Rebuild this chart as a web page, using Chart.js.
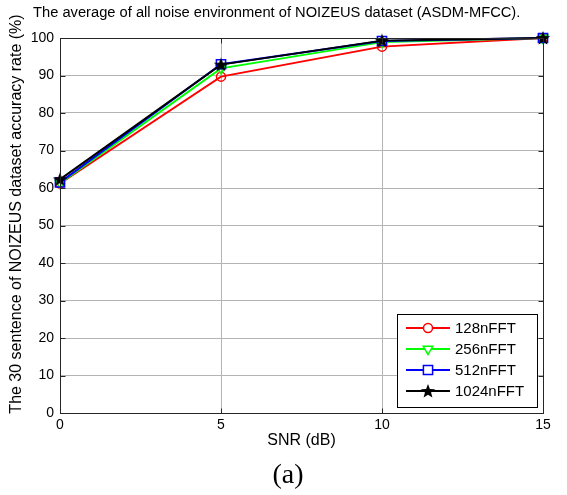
<!DOCTYPE html>
<html><head><meta charset="utf-8">
<script src="https://cdn.jsdelivr.net/npm/chart.js@4/dist/chart.umd.min.js"></script>
<style>html,body{margin:0;padding:0;background:#fff;}#wrap{width:567px;height:495px;}</style>
</head><body><div id="wrap"><canvas id="c" width="567" height="495"></canvas></div>
<script>
const snr = [0, 5, 10, 15];
const acc128 = [61.2, 89.7, 97.7, 100];
const acc256 = [61.3, 91.9, 98.9, 100];
const acc512 = [61.5, 93.0, 99.2, 100];
const acc1024 = [62.3, 92.9, 99.3, 100];
const seriesNames = ['128nFFT', '256nFFT', '512nFFT', '1024nFFT'];
const xTickValues = [0, 5, 10, 15];
const yTickValues = [0, 10, 20, 30, 40, 50, 60, 70, 80, 90, 100];
const chartTitle = 'The average of all noise environment of NOIZEUS dataset (ASDM-MFCC).';
const xTitle = 'SNR (dB)';
const yTitle = 'The 30 sentence of NOIZEUS dataset accuracy rate (%)';
const caption = '(a)';

const FONT = 'Liberation Sans, Arial, sans-serif';

// filled five-point star marker
const star = document.createElement('canvas');
star.width = 16; star.height = 16;
(function(){
  const g = star.getContext('2d');
  g.fillStyle = '#000';
  g.beginPath();
  for (let i = 0; i < 10; i++) {
    const r = i % 2 === 0 ? 7.5 : 3.2;
    const ang = -Math.PI / 2 + i * Math.PI / 5;
    const px = 8 + r * Math.cos(ang), py = 8.5 + r * Math.sin(ang);
    if (i === 0) g.moveTo(px, py); else g.lineTo(px, py);
  }
  g.closePath(); g.fill();
})();

function toPts(arr) { return snr.map((x, i) => ({x: x, y: arr[i]})); }

const styles = [
  {color: '#ff0000', pointStyle: 'circle', radius: 4.5, rotation: 0},
  {color: '#00ff00', pointStyle: 'triangle', radius: 5.5, rotation: 180},
  {color: '#0000ff', pointStyle: 'rect', radius: 6.5, rotation: 0},
  {color: '#000000', pointStyle: star, radius: 8, rotation: 0}
];
const allData = [acc128, acc256, acc512, acc1024];

const datasets = allData.map((arr, i) => ({
  label: seriesNames[i],
  data: toPts(arr),
  order: 3 - i,
  clip: false,
  borderColor: styles[i].color,
  backgroundColor: 'rgba(0,0,0,0)',
  borderWidth: 2,
  pointStyle: styles[i].pointStyle,
  pointRadius: styles[i].radius,
  pointRotation: styles[i].rotation,
  pointBorderColor: styles[i].color,
  pointBackgroundColor: 'rgba(0,0,0,0)',
  pointBorderWidth: 1.5,
  tension: 0
}));

const overlay = {
  id: 'overlay',
  afterDraw(chart) {
    const ctx = chart.ctx, a = chart.chartArea;
    const xs = chart.scales.x, ys = chart.scales.y;
    ctx.save();
    const L = Math.round(a.left) + 0.5, R = Math.round(a.right) + 0.5;
    const T = Math.round(a.top) + 0.5, B = Math.round(a.bottom) + 0.5;
    ctx.strokeStyle = '#262626'; ctx.lineWidth = 1;
    ctx.strokeRect(L, T, R - L, B - T);
    ctx.beginPath();
    yTickValues.forEach(v => {
      const p = Math.round(ys.getPixelForValue(v)) + 0.5;
      ctx.moveTo(L, p); ctx.lineTo(L + 5, p);
      ctx.moveTo(R, p); ctx.lineTo(R - 5, p);
    });
    xTickValues.forEach(v => {
      const p = Math.round(xs.getPixelForValue(v)) + 0.5;
      ctx.moveTo(p, B); ctx.lineTo(p, B - 5);
      ctx.moveTo(p, T); ctx.lineTo(p, T + 5);
    });
    ctx.stroke();

    // title
    ctx.fillStyle = '#000';
    ctx.font = '14.7px ' + FONT;
    ctx.textAlign = 'left'; ctx.textBaseline = 'middle';
    ctx.fillText(chartTitle, 33, 13);

    // y axis title
    ctx.save();
    ctx.translate(17, 214);
    ctx.rotate(-Math.PI / 2);
    ctx.font = '16px ' + FONT;
    ctx.textAlign = 'center'; ctx.textBaseline = 'middle';
    ctx.fillText(yTitle, 0, 0);
    ctx.restore();

    // caption
    ctx.font = '28px "Liberation Serif", "Times New Roman", serif';
    ctx.textAlign = 'center'; ctx.textBaseline = 'middle';
    ctx.fillText(caption, 288, 476);

    // legend
    const bx = 397.5, by = 314.5, bw = 140, bh = 93;
    ctx.fillStyle = '#fff';
    ctx.fillRect(bx, by, bw, bh);
    ctx.strokeStyle = '#000'; ctx.lineWidth = 1;
    ctx.strokeRect(bx, by, bw, bh);
    const rows = [328, 349, 370, 391];
    ctx.font = '15px ' + FONT;
    ctx.textAlign = 'left'; ctx.textBaseline = 'middle';
    rows.forEach((ry, i) => {
      const s = styles[i];
      ctx.strokeStyle = s.color; ctx.lineWidth = 2;
      ctx.beginPath(); ctx.moveTo(406, ry); ctx.lineTo(450, ry); ctx.stroke();
      ctx.lineWidth = 1.5;
      ctx.fillStyle = '#fff';
      Chart.helpers.drawPoint(ctx, {pointStyle: s.pointStyle, radius: s.radius, rotation: s.rotation, borderWidth: 1.5}, 428, ry);
      ctx.fillStyle = '#000';
      ctx.fillText(seriesNames[i], 455, ry + 1);
    });
    ctx.restore();
  }
};

new Chart(document.getElementById('c'), {
  type: 'line',
  data: {datasets: datasets},
  options: {
    responsive: false,
    animation: false,
    layout: {padding: {top: 38, right: 24, bottom: 0, left: 0}},
    plugins: {legend: {display: false}, tooltip: {enabled: false}, title: {display: false}},
    scales: {
      x: {
        type: 'linear', min: 0, max: 15,
        afterFit(s) { s.height = 82; },
        afterBuildTicks(s) { s.ticks = xTickValues.map(v => ({value: v})); },
        grid: {color: '#b4b4b4', drawTicks: false, lineWidth: 1},
        border: {display: false},
        ticks: {color: '#000', font: {family: FONT, size: 14}, padding: 4, maxRotation: 0},
        title: {display: true, text: xTitle, color: '#000', font: {family: FONT, size: 16}, padding: {top: 0, bottom: 45}}
      },
      y: {
        type: 'linear', min: 0, max: 100,
        afterFit(s) { s.width = 60; },
        afterBuildTicks(s) { s.ticks = yTickValues.map(v => ({value: v})); },
        grid: {color: '#b4b4b4', drawTicks: false, lineWidth: 1},
        border: {display: false},
        ticks: {color: '#000', font: {family: FONT, size: 14}, padding: 6},
        title: {display: false, text: yTitle}
      }
    }
  },
  plugins: [overlay]
});
</script>
</body></html>
